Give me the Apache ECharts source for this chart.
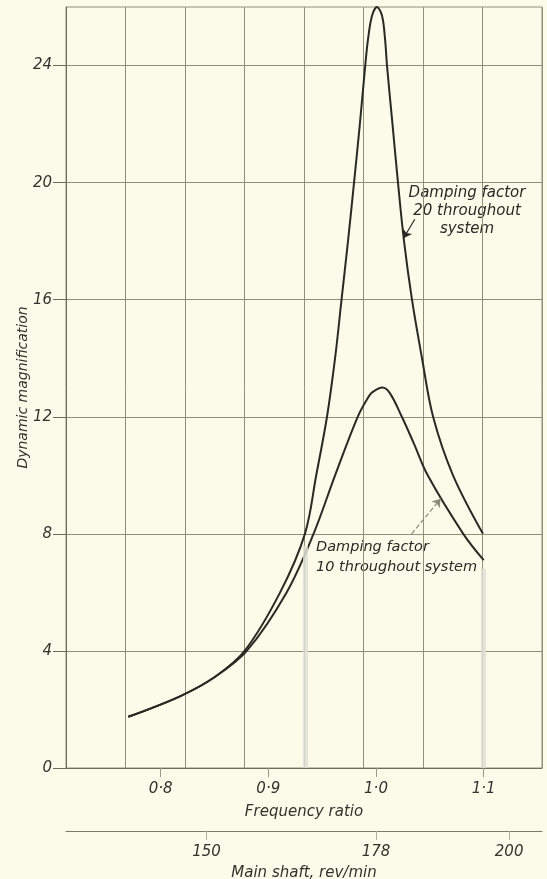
<!DOCTYPE html>
<html>
<head>
<meta charset="utf-8">
<script src="https://cdn.jsdelivr.net/npm/echarts@6/dist/echarts.min.js"></script>
<style>
html,body{margin:0;padding:0;background:#fcfbe9;}
#c{width:547px;height:879px;}
</style>
</head>
<body>
<div id="c"></div>
<script>
// Frequency ratio / dynamic magnification, damping factor 10
const ratio10 = [0.770, 0.818, 0.850, 0.880, 0.917, 0.942, 0.962, 0.983, 0.993, 0.997, 1.006, 1.013, 1.024, 1.035, 1.048, 1.081, 1.100];
const mag10   = [1.75, 2.45, 3.10, 4.0, 6.0, 8.0, 10.0, 12.0, 12.68, 12.85, 13.0, 12.8, 12.0, 11.1, 10.0, 8.0, 7.1];
// damping factor 20
const ratio20 = [0.770, 0.818, 0.850, 0.878, 0.911, 0.934, 0.9445, 0.9545, 0.962, 0.968, 0.974, 0.9796, 0.985, 0.990, 0.9926, 0.9963, 1.0009, 1.0056, 1.0084, 1.0102, 1.0153, 1.0204, 1.026, 1.0334, 1.0427, 1.053, 1.0715, 1.0993];
const mag20   = [1.75, 2.45, 3.10, 4.0, 6.0, 8.0, 10.0, 12.0, 14.0, 16.0, 18.0, 20.0, 22.0, 24.0, 24.9, 25.7, 26.0, 25.7, 24.9, 24.0, 22.0, 20.0, 18.0, 16.0, 14.0, 12.0, 10.0, 8.0];
// axis ticks
const ratioTicks = [0.8, 0.9, 1.0, 1.1];
const rpmTicks = [150, 178, 200];
const magTicks = [0, 4, 8, 12, 16, 20, 24];
const ratioMin = 0.7122, ratioMax = 1.1541;
const rpmAtUnity = 178;
// annotation arrows [from, to] in data coordinates
const arrow20 = [[1.036, 18.75], [1.0255, 18.1]];
const arrow10 = [[1.033, 8.0], [1.060, 9.2]];
// faint scan streaks on the paper
const streaks = [[0.9345, 7.6], [1.0993, 6.8]];

const ink = '#2a2a24';
const gridCol = '#8f8f7a';
const font = {fontFamily: 'DejaVu Sans', fontStyle: 'italic', color: '#33332c'};

const chart = echarts.init(document.getElementById('c'));
chart.setOption({
  backgroundColor: '#fcfbe9',
  animation: false,
  grid: {left: 66, right: 5, top: 7, bottom: 111, outerBoundsMode: 'none', containLabel: false,
    show: true, borderColor: gridCol, borderWidth: 1, backgroundColor: 'transparent'},
  xAxis: [
    {
      type: 'value', min: ratioMin, max: ratioMax, position: 'bottom',
      axisLine: {show: true, lineStyle: {color: '#6d6d5c', width: 1}},
      axisTick: {show: true, customValues: ratioTicks, length: 9, lineStyle: {color: '#9a9a88'}},
      axisLabel: {show: true, customValues: ratioTicks, margin: 14, fontSize: 15, ...font,
        formatter: v => v.toFixed(1).replace('.', '·')},
      splitLine: {show: false},
      name: 'Frequency ratio', nameLocation: 'middle', nameGap: 37, nameMoveOverlap: false,
      nameTextStyle: {fontSize: 15, ...font}
    },
    {
      type: 'value', min: 0, max: 8, interval: 1, position: 'top',
      axisLine: {show: false}, axisTick: {show: false}, axisLabel: {show: false},
      splitLine: {show: true, lineStyle: {color: gridCol, width: 1}}
    },
    {
      type: 'value', min: ratioMin * rpmAtUnity, max: ratioMax * rpmAtUnity, position: 'bottom', offset: 63,
      axisLine: {show: true, lineStyle: {color: '#7a7a68', width: 1}},
      axisTick: {show: true, customValues: rpmTicks, length: 9, lineStyle: {color: '#b0b0a0'}},
      axisLabel: {show: true, customValues: rpmTicks, margin: 14, fontSize: 15, ...font},
      splitLine: {show: false},
      name: 'Main shaft, rev/min', nameLocation: 'middle', nameGap: 35, nameMoveOverlap: false,
      nameTextStyle: {fontSize: 15, ...font}
    }
  ],
  yAxis: [{
    type: 'value', min: 0, max: 26, interval: 2,
    axisLine: {show: true, lineStyle: {color: '#6d6d5c', width: 1}},
    axisTick: {show: true, customValues: magTicks, length: 13, lineStyle: {color: '#6d6d5c'}},
    axisLabel: {show: true, customValues: magTicks, margin: 14, fontSize: 15, ...font},
    splitLine: {show: true, lineStyle: {color: gridCol, width: 1}},
    name: 'Dynamic magnification', nameLocation: 'middle', nameGap: 36, nameRotate: 90, nameMoveOverlap: false,
    nameTextStyle: {fontSize: 14, ...font}
  }],
  series: [
    {
      type: 'line', xAxisIndex: 0, yAxisIndex: 0, name: 'streaks', silent: true,
      data: [], symbol: 'none',
      markLine: {
        silent: true, symbol: ['none', 'none'], label: {show: false},
        lineStyle: {color: 'rgba(222,222,212,0.85)', width: 5, type: 'solid'},
        data: streaks.map(s => [{coord: [s[0], 0]}, {coord: [s[0], s[1]]}])
      }
    },
    {
      type: 'line', xAxisIndex: 0, yAxisIndex: 0, name: 'Damping factor 20',
      data: ratio20.map((r, i) => [r, mag20[i]]),
      smooth: 0.35, symbol: 'none', lineStyle: {color: ink, width: 2},
      markLine: {
        silent: true, symbol: ['none', 'arrow'], symbolSize: 8,
        label: {show: false},
        lineStyle: {color: ink, width: 1.2, type: 'solid'},
        data: [[{coord: arrow20[0]}, {coord: arrow20[1]}]]
      }
    },
    {
      type: 'line', xAxisIndex: 0, yAxisIndex: 0, name: 'Damping factor 10',
      data: ratio10.map((r, i) => [r, mag10[i]]),
      smooth: 0.35, symbol: 'none', lineStyle: {color: ink, width: 2},
      markLine: {
        silent: true, symbol: ['none', 'arrow'], symbolSize: 8,
        label: {show: false},
        lineStyle: {color: '#8a8a7a', width: 1.2, type: 'dashed'},
        data: [[{coord: arrow10[0]}, {coord: arrow10[1]}]]
      }
    }
  ],
  graphic: [
    {type: 'text', x: 467, y: 184, style: {text: 'Damping factor\n20 throughout\nsystem', align: 'center', verticalAlign: 'top', lineHeight: 18, fontSize: 15, fontFamily: 'DejaVu Sans', fontStyle: 'italic', fill: '#2a2a24'}},
    {type: 'text', x: 316, y: 537, style: {text: 'Damping factor\n10 throughout system', align: 'left', verticalAlign: 'top', lineHeight: 20, fontSize: 14.5, fontFamily: 'DejaVu Sans', fontStyle: 'italic', fill: '#2a2a24'}}
  ]
});
</script>
</body>
</html>
